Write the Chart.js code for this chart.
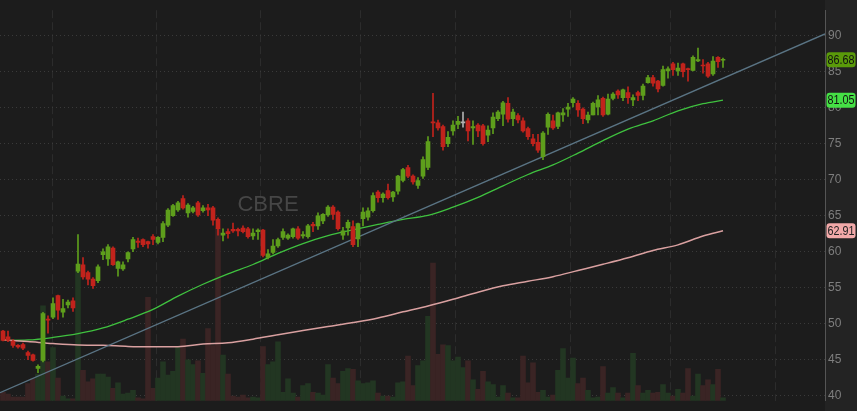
<!DOCTYPE html>
<html>
<head>
<meta charset="utf-8">
<script src="https://cdn.jsdelivr.net/npm/chart.js@4.4.1/dist/chart.umd.min.js"></script>
<style>
  html, body { margin: 0; padding: 0; background: #1c1c1c; }
  #wrap { width: 857px; height: 411px; }
</style>
</head>
<body>
<div id="wrap"><canvas id="myChart"></canvas></div>
<script>
'use strict';

// ticker shown as watermark
const symbol = 'CBRE';

// daily candles, oldest first
const opens = [
  49.0, 48.2, 47.6, 47.0, 47.1, 46.0, 45.7, 43.8, 44.9, 50.6,
  50.9, 53.9, 51.6, 52.6, 53.2, 57.3, 58.2, 57.1, 56.2, 56.0,
  59.6, 59.0, 60.5, 57.7, 57.6, 59.0, 60.4, 61.5, 61.7, 61.4,
  62.1, 61.3, 62.0, 63.7, 65.0, 65.8, 67.4, 65.4, 65.6, 66.8,
  65.7, 66.1, 66.1, 64.5, 62.3, 62.8, 63.1, 63.1, 63.3, 63.2,
  62.2, 62.8, 63.0, 59.2, 59.9, 60.8, 62.0, 61.9, 62.1, 63.2,
  62.2, 62.1, 63.8, 63.6, 64.3, 65.1, 66.2, 65.5, 62.3, 63.3,
  63.5, 61.8, 64.6, 64.8, 65.7, 68.3, 67.5, 68.5, 67.6, 68.4,
  69.9, 71.7, 70.5, 69.2, 70.5, 71.7, 78.0, 77.9, 77.4, 75.0,
  76.8, 77.7, 77.9, 78.2, 77.2, 77.6, 77.5, 76.2, 77.2, 78.5,
  79.1, 80.6, 78.5, 78.9, 78.2, 77.1, 75.7, 75.2, 73.2, 77.3,
  78.2, 77.4, 79.0, 79.8, 80.7, 80.6, 79.8, 78.3, 79.0, 80.1,
  81.3, 79.1, 81.3, 82.3, 81.4, 82.1, 81.1, 82.1, 81.7, 83.5,
  84.2, 83.7, 83.1, 85.1, 86.1, 85.1, 86.1, 85.4, 85.2, 86.5,
  85.9, 86.1, 84.7, 87.0, 86.6
];
const highs = [
  49.1, 49.0, 47.8, 47.1, 47.3, 46.2, 45.8, 44.3, 51.6, 51.1,
  53.6, 54.0, 53.4, 53.3, 53.6, 62.4, 59.2, 57.3, 56.4, 58.2,
  60.4, 61.0, 60.7, 58.7, 58.6, 60.0, 62.0, 61.9, 61.8, 61.5,
  62.4, 62.1, 64.2, 66.0, 66.6, 67.0, 67.8, 66.7, 66.3, 67.0,
  66.4, 66.6, 66.3, 64.7, 63.2, 63.2, 64.0, 63.3, 63.6, 63.4,
  63.2, 63.2, 63.1, 60.3, 61.7, 61.9, 63.2, 62.5, 63.3, 63.5,
  62.8, 63.8, 64.1, 65.4, 65.3, 66.4, 66.4, 65.7, 63.4, 64.4,
  64.3, 64.0, 66.1, 66.1, 68.2, 68.5, 68.2, 69.4, 68.4, 70.6,
  71.6, 72.0, 70.7, 70.3, 73.2, 76.0, 82.0, 78.3, 77.6, 76.7,
  78.2, 78.8, 79.4, 78.5, 78.2, 77.8, 77.7, 77.5, 79.3, 79.6,
  80.9, 81.4, 79.8, 79.2, 78.6, 77.3, 76.3, 76.3, 76.7, 79.3,
  79.0, 79.4, 79.9, 80.6, 81.4, 81.0, 80.0, 79.4, 80.8, 81.7,
  81.5, 81.9, 82.1, 82.5, 82.6, 82.9, 81.8, 82.3, 83.3, 84.5,
  84.5, 83.8, 85.8, 85.7, 86.3, 86.2, 86.2, 85.5, 87.2, 88.3,
  86.7, 86.3, 87.1, 87.1, 86.9
];
const lows = [
  47.6, 47.5, 46.7, 46.6, 46.4, 45.0, 44.8, 43.2, 44.7, 48.7,
  50.7, 50.6, 50.9, 52.2, 51.7, 57.1, 56.2, 55.4, 54.9, 55.7,
  58.9, 58.1, 58.1, 56.6, 57.4, 58.6, 60.0, 60.6, 60.7, 60.5,
  61.0, 61.1, 61.4, 63.5, 64.9, 65.6, 65.9, 64.8, 65.4, 64.9,
  65.5, 65.0, 63.7, 62.3, 61.5, 61.9, 62.7, 62.2, 62.6, 61.9,
  61.7, 61.7, 59.3, 59.0, 59.7, 60.6, 61.7, 61.7, 61.9, 61.7,
  61.9, 61.9, 62.8, 63.1, 63.9, 64.9, 64.5, 63.0, 61.7, 62.3,
  60.7, 60.7, 63.6, 64.4, 65.5, 66.9, 66.9, 67.3, 67.0, 68.0,
  69.7, 70.3, 69.4, 68.8, 70.2, 71.4, 76.0, 76.9, 74.1, 74.6,
  76.2, 77.1, 77.3, 75.4, 74.9, 76.0, 74.8, 75.3, 76.4, 78.2,
  77.5, 78.0, 77.5, 77.9, 76.6, 75.6, 74.7, 73.8, 72.8, 76.3,
  77.0, 77.1, 78.1, 78.8, 80.1, 78.8, 77.8, 77.9, 79.0, 79.0,
  78.8, 79.0, 81.1, 81.3, 81.0, 80.6, 80.3, 81.0, 81.1, 83.4,
  83.0, 82.2, 83.0, 84.1, 84.5, 84.5, 84.3, 83.7, 85.1, 86.4,
  84.8, 84.2, 84.5, 85.6, 85.6
];
const closes = [
  47.7, 47.7, 47.0, 46.8, 46.6, 45.6, 44.9, 44.1, 51.4, 50.5,
  52.8, 51.9, 52.1, 53.0, 52.2, 58.3, 56.5, 56.2, 55.3, 57.9,
  60.0, 60.7, 58.2, 58.6, 58.2, 59.9, 61.7, 61.3, 61.0, 61.1,
  61.7, 62.0, 63.9, 65.8, 66.4, 66.8, 66.1, 66.5, 66.1, 65.1,
  66.1, 65.8, 64.4, 63.2, 62.6, 62.5, 62.9, 62.9, 62.8, 62.1,
  62.6, 63.0, 59.5, 59.7, 60.8, 61.7, 62.8, 62.3, 63.2, 61.9,
  62.4, 63.6, 63.6, 65.0, 65.2, 66.2, 65.2, 63.2, 62.9, 64.1,
  61.0, 63.9, 65.5, 65.7, 67.8, 67.5, 68.0, 67.5, 68.3, 70.5,
  71.4, 70.5, 69.7, 69.9, 72.8, 75.3, 77.9, 77.2, 74.6, 75.9,
  77.6, 78.1, 77.9, 76.8, 77.4, 76.8, 75.0, 76.9, 78.7, 79.4,
  80.7, 78.4, 79.4, 78.3, 76.8, 76.0, 75.0, 74.1, 76.5, 79.1,
  77.2, 79.3, 79.3, 80.1, 81.2, 79.7, 78.5, 79.0, 80.6, 81.1,
  79.0, 81.2, 81.9, 81.8, 82.5, 81.4, 81.4, 81.7, 83.0, 84.2,
  83.4, 82.6, 85.3, 85.4, 85.3, 85.5, 85.0, 85.3, 87.0, 86.7,
  85.8, 84.4, 86.5, 86.4, 86.68
];
// volume, thousands of shares
const volumes = [
  225, 175, 100, 100, 100, 450, 575, 700, 2500, 1025,
  1400, 600, 125, 50, 50, 3400, 800, 500, 575, 700,
  700, 625, 325, 475, 175, 200, 275, 75, 50, 2725,
  325, 600, 1025, 675, 775, 1425, 1625, 1075, 950, 1050,
  725, 1900, 1450, 4525, 1200, 700, 125, 100, 150, 75,
  100, 75, 1425, 950, 1025, 1550, 225, 575, 200, 100,
  400, 450, 225, 200, 150, 950, 600, 450, 775, 850,
  825, 525, 450, 475, 525, 200, 125, 125, 100, 475,
  500, 1175, 400, 925, 1050, 2225, 3625, 1225, 1475, 1450,
  1050, 1150, 875, 1050, 550, 300, 775, 500, 425, 100,
  400, 200, 75, 75, 1175, 475, 1000, 225, 275, 100,
  150, 800, 1375, 600, 1125, 450, 600, 275, 75, 100,
  900, 200, 350, 200, 75, 200, 1250, 400, 200, 275,
  200, 225, 425, 200, 125, 300, 200, 850, 125, 700,
  400, 550, 425, 825, 75
];

// moving averages, read every 5th session
const maIdx = [0, 5, 10, 15, 20, 25, 30, 35, 40, 45, 50, 55, 60, 65, 70,
  75, 80, 85, 90, 95, 100, 105, 110, 115, 120, 125, 130, 135, 140, 144];
const ma50 = [47.69, 47.75, 48.10, 48.62, 49.42, 50.63, 51.99, 53.84, 55.49, 56.94,
  58.23, 59.78, 61.14, 62.24, 63.05, 63.80, 64.50, 65.05, 66.20, 67.56,
  69.16, 70.73, 72.06, 73.70, 75.44, 77.02, 78.19, 79.57, 80.56, 81.05];
const ma200 = [47.77, 47.53, 47.26, 47.06, 47.01, 46.85, 46.81, 46.82, 47.18, 47.35,
  47.86, 48.47, 49.05, 49.62, 50.17, 50.81, 51.66, 52.48, 53.40, 54.39,
  55.27, 55.90, 56.54, 57.40, 58.26, 59.16, 60.17, 60.96, 62.19, 62.91];

// trendline end points (session index, price)
const trendX = [-0.6, 164.4];
const trendY = [40.42, 90.25];

// axis ticks
const yTicks = [40, 45, 50, 55, 60, 65, 70, 75, 80, 85, 90];
const monthTicks = [9.8, 30.6, 51.4, 71.6, 90.4, 113.6, 133.4, 154.4];

//colors
const upColor = '#5e9e1c';
const downColor = '#c1231c';
const flatColor = '#b0b0b0';
const upVol = '#223622';
const downVol = '#3a2424';
const axisFont = '"Liberation Sans", Arial, sans-serif';

function dir(i) {
  if (closes[i] > opens[i]) return 1;
  if (closes[i] < opens[i]) return -1;
  return 0;
}
function candleColor(ctx) {
  const d = dir(ctx.dataIndex);
  return d > 0 ? upColor : d < 0 ? downColor : flatColor;
}

let wickData = [];
let bodyData = [];
let volData = [];
for (let i = 0; i < opens.length; i++) {
  wickData.push({ x: i, y: [lows[i], highs[i]] });
  bodyData.push({ x: i, y: [Math.min(opens[i], closes[i]), Math.max(opens[i], closes[i])] });
  volData.push({ x: i, y: volumes[i] });
}
const ma50Data = maIdx.map((x, k) => ({ x: x, y: ma50[k] }));
const ma200Data = maIdx.map((x, k) => ({ x: x, y: ma200[k] }));
const trendData = trendX.map((x, k) => ({ x: x, y: trendY[k] }));

// price tags on the right axis
const tags = [
  { value: closes[closes.length - 1], bg: '#5a9a0a', fg: '#111' },
  { value: ma50[ma50.length - 1], bg: '#45e045', fg: '#111' },
  { value: ma200[ma200.length - 1], bg: '#f2a9a9', fg: '#222' }
];

const chartDecor = {
  id: 'chartDecor',
  beforeDraw(chart) {
    const { ctx, chartArea, width, height } = chart;
    ctx.save();
    ctx.fillStyle = '#1c1c1c';
    ctx.fillRect(0, 0, width, height);
    ctx.fillStyle = '#232323';
    ctx.fillRect(chartArea.right, 0, width - chartArea.right, height);
    ctx.restore();
  },
  beforeDatasetsDraw(chart) {
    const { ctx, chartArea } = chart;
    ctx.save();
    ctx.font = '22px "Liberation Sans", Arial, sans-serif';
    ctx.fillStyle = '#464646';
    ctx.textAlign = 'center';
    ctx.textBaseline = 'middle';
    ctx.fillText(symbol, chartArea.left + 268, 205);
    ctx.restore();
  },
  afterDraw(chart) {
    const { ctx, chartArea, width } = chart;
    const yScale = chart.scales.y;
    const boxW = width - chartArea.right - 3;
    ctx.save();
    ctx.font = '13px ' + axisFont;
    ctx.textBaseline = 'middle';
    ctx.textAlign = 'left';
    for (let t of tags) {
      const y = yScale.getPixelForValue(t.value);
      const label = t.value.toFixed(2);
      ctx.fillStyle = t.bg;
      ctx.beginPath();
      ctx.roundRect(chartArea.right + 1.5, y - 7.5, boxW, 15, 3);
      ctx.fill();
      // squeeze the label so it fits the narrow axis strip
      const sx = Math.min(1, (boxW - 2) / ctx.measureText(label).width);
      ctx.save();
      ctx.translate(chartArea.right + 2.5, y + 0.5);
      ctx.scale(sx, 1);
      ctx.fillStyle = t.fg;
      ctx.fillText(label, 0, 0);
      ctx.restore();
    }
    ctx.restore();
  }
};

const config = {
  data: {
    datasets: [
      {
        type: 'bar', label: 'Volume', data: volData, yAxisID: 'yVol',
        grouped: false, barThickness: 5, order: 5,
        backgroundColor: (ctx) => dir(ctx.dataIndex) >= 0 ? upVol : downVol
      },
      {
        type: 'line', label: 'Trend', data: trendData, order: 4,
        borderColor: '#5a7484', borderWidth: 1.3, pointRadius: 0
      },
      {
        type: 'line', label: 'MA200', data: ma200Data, order: 4,
        borderColor: '#d9a0a0', borderWidth: 1.5, pointRadius: 0,
        cubicInterpolationMode: 'monotone'
      },
      {
        type: 'line', label: 'MA50', data: ma50Data, order: 4,
        borderColor: '#3fc13f', borderWidth: 1.3, pointRadius: 0,
        cubicInterpolationMode: 'monotone'
      },
      {
        type: 'bar', label: 'Wick', data: wickData,
        grouped: false, barThickness: 1, order: 2,
        backgroundColor: candleColor
      },
      {
        type: 'bar', label: 'Body', data: bodyData,
        grouped: false, barThickness: 4, minBarLength: 1, order: 1,
        backgroundColor: candleColor
      }
    ]
  },
  options: {
    responsive: true,
    maintainAspectRatio: false,
    animation: false,
    devicePixelRatio: 1,
    layout: { padding: 0 },
    plugins: {
      legend: { display: false },
      tooltip: { enabled: false }
    },
    scales: {
      x: {
        type: 'linear', min: trendX[0], max: trendX[1], position: 'bottom',
        offset: false,
        afterBuildTicks: (s) => { s.ticks = monthTicks.map(v => ({ value: v })); },
        afterFit: (s) => { s.height = 0; },
        ticks: { display: false },
        border: { display: false, dash: [8, 4] },
        grid: { color: '#2c2c2c', drawTicks: false, offset: false }
      },
      y: {
        position: 'right', min: 39.3, max: 93.55,
        afterBuildTicks: (s) => { s.ticks = yTicks.map(v => ({ value: v })); },
        afterFit: (s) => { s.width = 32; },
        ticks: {
          color: '#7e7e7e', padding: 3,
          font: { family: axisFont, size: 12 }
        },
        border: { display: true, color: '#555555', width: 1, dash: [1, 3] },
        grid: { color: '#3a3a3a', drawTicks: false }
      },
      yVol: {
        display: false, min: 0, max: 10275
      }
    }
  },
  plugins: [chartDecor]
};

const myChart = new Chart(document.getElementById('myChart'), config);
</script>
</body>
</html>
